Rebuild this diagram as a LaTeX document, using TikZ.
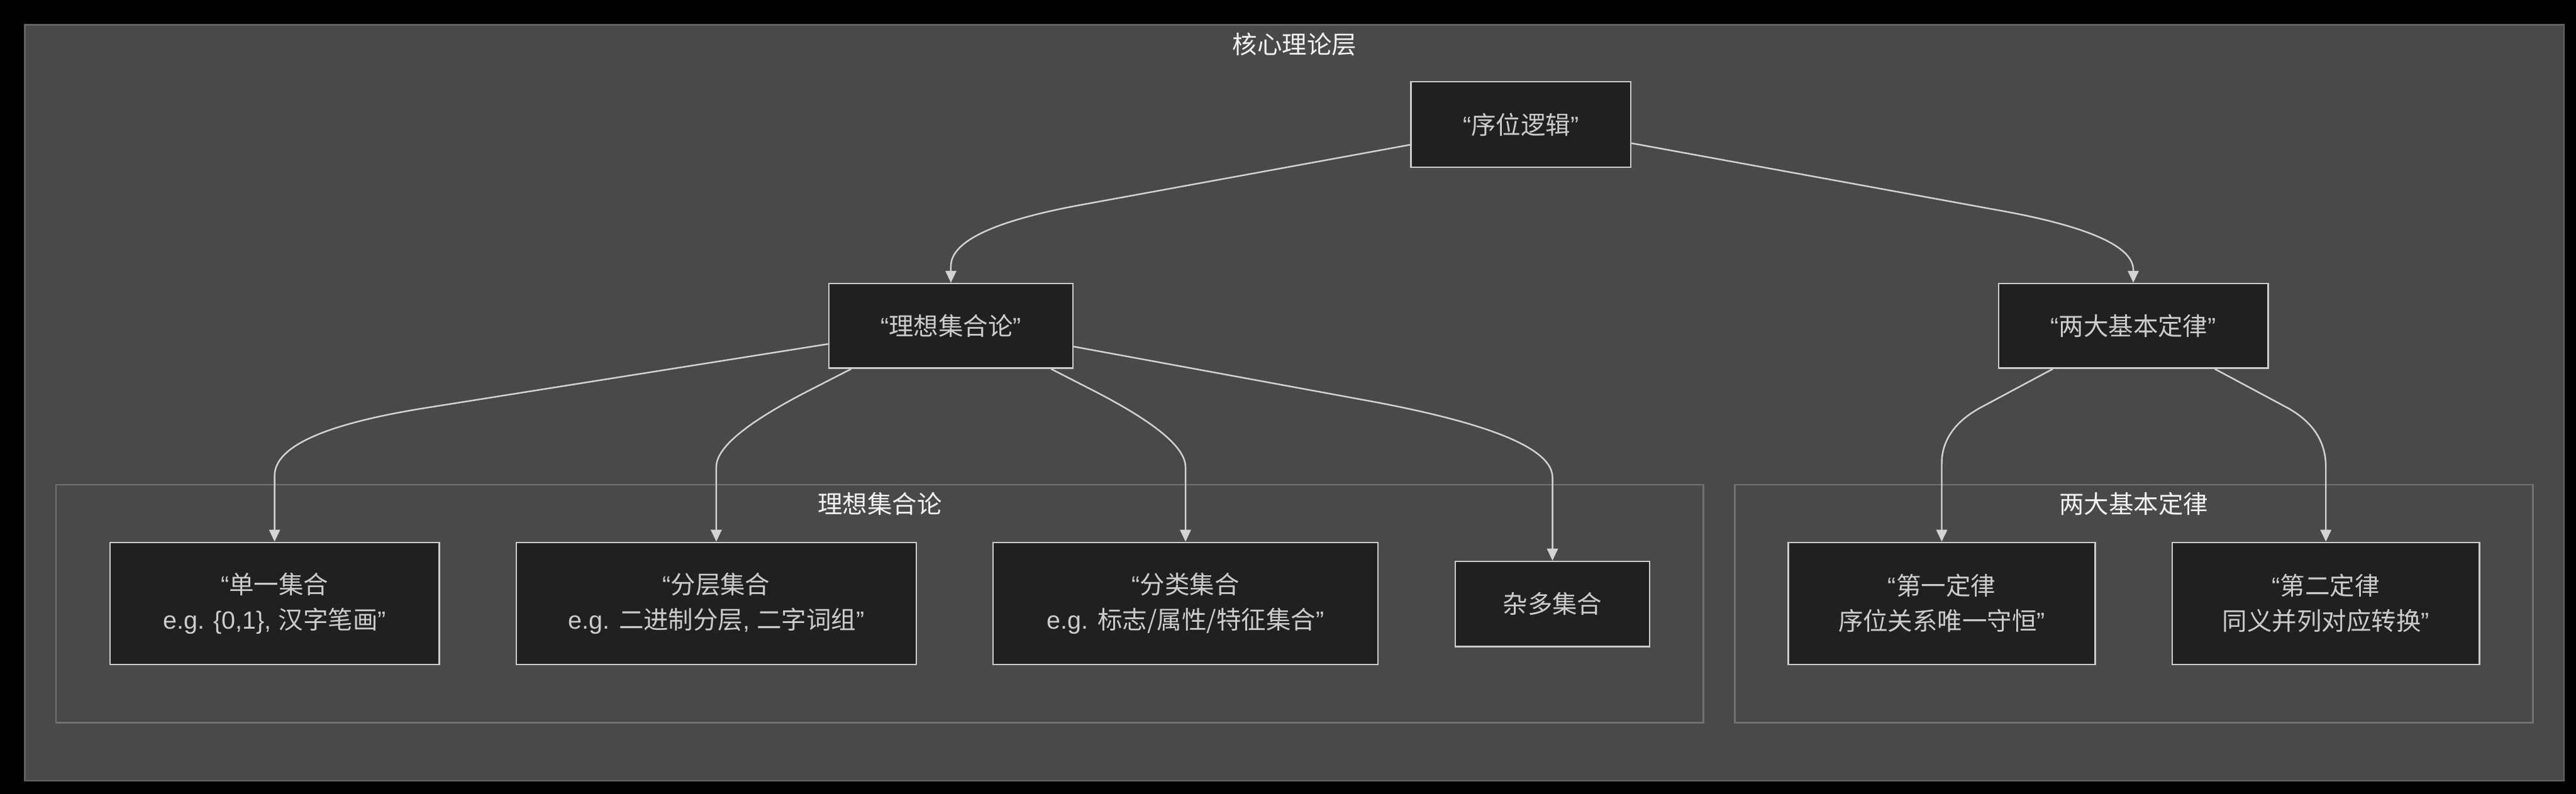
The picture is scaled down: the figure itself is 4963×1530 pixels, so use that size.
\documentclass[tikz,border=0pt]{standalone}
\usepackage{fontspec}
\setmainfont{Liberation Sans}
\newfontfamily\cjk{Noto Sans CJK SC}
\newcommand{\zh}[1]{{\cjk #1}}
\usepackage{tikz}
\usetikzlibrary{arrows.meta,calc}

\definecolor{panel}{RGB}{72,74,73}
\definecolor{outerline}{RGB}{98,100,99}
\definecolor{groupline}{RGB}{112,113,113}
\definecolor{boxfill}{RGB}{31,32,32}
\definecolor{boxline}{RGB}{204,204,204}
\definecolor{boxtext}{RGB}{204,204,204}
\definecolor{edgecol}{RGB}{211,211,211}
\definecolor{titletext}{RGB}{242,242,242}

\begin{document}
\begin{tikzpicture}[x=0.01cm, y=-0.01cm,
    every node/.style={font=\fontsize{13.6pt}{19.3pt}\selectfont},
    outerframe/.style={draw=outerline, line width=0.9pt, fill=panel},
    subframe/.style={draw=groupline, line width=0.9pt, fill=panel},
    nodebox/.style={draw=boxline, line width=0.85pt, fill=boxfill, text=boxtext,
      inner sep=0pt, align=center, minimum height=2.35cm},
    grouplabel/.style={text=titletext},
    flow/.style={draw=edgecol, line width=0.85pt, -{Triangle[length=0.23cm,width=0.21cm]}}
  ]
  % Hintergrund
  \fill[black] (0,0) rectangle (4963,1530);

  % Rahmen
  \draw[outerframe] (48,48) rectangle (4940,1505);
  \node[grouplabel] (coretitle) at (2494,85) {\zh{核心理论层}};
  \draw[subframe] (108,934) rectangle (3282,1393);
  \node[grouplabel] (idealtitle) at (1695,971) {\zh{理想集合论}};
  \draw[subframe] (3342,934) rectangle (4880,1393);
  \node[grouplabel] (lawstitle) at (4111,971) {\zh{两大基本定律}};

  % Knoten
  \node[nodebox, minimum width=4.23cm, minimum height=1.65cm] (logic) at (2930,240) {“\zh{序位逻辑}”};
  \node[nodebox, minimum width=4.70cm, minimum height=1.63cm] (ideal) at (1832,628) {“\zh{理想集合论}”};
  \node[nodebox, minimum width=5.19cm, minimum height=1.63cm] (laws) at (4110,628) {“\zh{两大基本定律}”};

  \node[nodebox, minimum width=6.34cm] (single) at (529,1163) {“\zh{单一集合}\\e.g. \{0,1\}, \zh{汉字笔画}”};
  \node[nodebox, minimum width=7.70cm] (layer) at (1380,1163) {“\zh{分层集合}\\e.g. \zh{二进制分层}, \zh{二字词组}”};
  \node[nodebox, minimum width=7.41cm] (classify) at (2284,1163) {“\zh{分类集合}\\e.g. \zh{标志/属性/特征集合}”};
  \node[nodebox, minimum width=3.74cm, minimum height=1.64cm] (misc) at (2991,1164) {\zh{杂多集合}};

  \node[nodebox, minimum width=5.91cm] (law1) at (3741,1163) {“\zh{第一定律}\\\zh{序位关系唯一守恒}”};
  \node[nodebox, minimum width=5.91cm] (law2) at (4481,1163) {“\zh{第二定律}\\\zh{同义并列对应转换}”};

  % Kanten
  \draw[flow] ($(logic.west)+(0,39)$) -- (2093,393) .. controls (1919,424) and (1832,464) .. (1832,513) -- (ideal.north);
  \draw[flow] ($(logic.east)+(0,36)$) -- (3849,405) .. controls (4023,436) and (4110,475) .. (4110,520) -- (laws.north);

  \draw[flow] ($(ideal.west)+(0,35)$) -- (815,787) .. controls (624,818) and (529,861) .. (529,917) -- (single.north);
  \draw[flow] ($(ideal.south)+(-192,0)$) -- (1560,752) .. controls (1441,813) and (1380,862) .. (1380,900) -- (layer.north);
  \draw[flow] ($(ideal.south)+(193,0)$) -- (2105,752) .. controls (2224,813) and (2284,862) .. (2284,900) -- (classify.north);
  \draw[flow] ($(ideal.east)+(0,40)$) -- (2650,775) .. controls (2877,818) and (2991,866) .. (2991,920) -- (misc.north);

  \draw[flow] ($(laws.south)+(-155,0)$) -- (3815,786) .. controls (3766,813) and (3741,849) .. (3741,893) -- (law1.north);
  \draw[flow] ($(laws.south)+(157,0)$) -- (4407,786) .. controls (4456,813) and (4481,851) .. (4481,900) -- (law2.north);
\end{tikzpicture}
\end{document}
